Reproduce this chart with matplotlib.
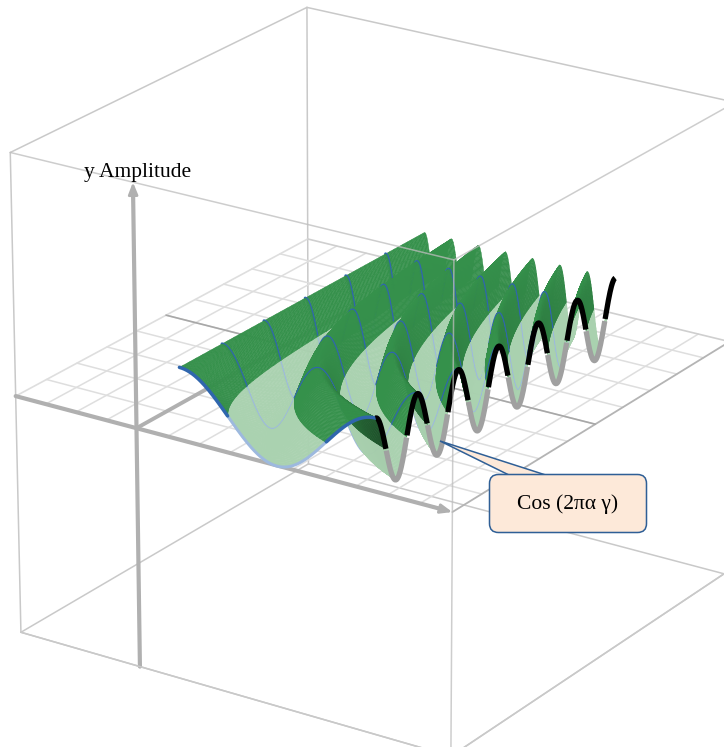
import numpy as np
import matplotlib
matplotlib.use('Agg')
import matplotlib.pyplot as plt
from matplotlib.collections import PolyCollection
from matplotlib.patches import FancyBboxPatch, Polygon

# box corners (x, y, z) and where they sit in the picture, used to fit the camera
box_corners = [(0, 0, 1), (1, 0, 1), (1, 1, 1), (0, 1, 1),
               (0, 0, 0), (1, 0, 0), (1, 1, 0), (0, 1, 0),
               (0, 0, -1), (1, 0, -1), (1, 1, -1), (0, 1, -1)]
corner_pixels = [(10, 152), (454, 260), (735, 103), (308, 7),
                 (15, 397), (452, 512), (729, 341), (308, 239),
                 (22, 631), (451, 757), (725, 573), (307, 465)]

# the surface is the function named on the chart: cos(2 pi alpha gamma)
alpha_max = 7
alpha_lines = [1, 2, 3, 4, 5, 6]
alpha_range = (1, 7)
gamma_range = (0, 1)
gamma_start = 0.285   # box x where gamma = 0
gamma_end = 0.735     # box x where gamma = 1
amplitude = 0.152

grid_x_lines = 14
grid_y_lines = 10

axis_label = 'y Amplitude'
callout_label = 'Cos (2\u03c0\u03b1 \u03b3)'

GREEN = np.array([52, 142, 74]) / 255
LIGHT_GREEN = np.array([170, 210, 176]) / 255
BLUE = '#2f66ad'
LIGHT_BLUE = '#9db9de'
EDGE = '#c9c9c9'
GRID = '#dedede'
AXIS = '#b0b0b0'


def fit_camera(points, pixels):
    """Fit the 3x4 projective camera from the box corners."""
    rows = []
    values = []
    for (x, y, z), (u, v) in zip(points, pixels):
        rows.append([x, y, z, 1, 0, 0, 0, 0, -u * x, -u * y, -u * z])
        rows.append([0, 0, 0, 0, x, y, z, 1, -v * x, -v * y, -v * z])
        values += [u, v]
    p = np.linalg.lstsq(np.array(rows, float), np.array(values, float), rcond=None)[0]
    return np.append(p, 1).reshape(3, 4)


camera = fit_camera(box_corners, corner_pixels)


def project(x, y, z):
    x, y, z = np.broadcast_arrays(x, y, z)
    pts = np.stack([x, y, z, np.ones_like(x, dtype=float)], axis=-1)
    out = pts @ camera.T
    return out[..., 0] / out[..., 2], out[..., 1] / out[..., 2]


def line3d(ax, start, end, **kwargs):
    s = np.linspace(0, 1, 40)
    xs = start[0] + (end[0] - start[0]) * s
    ys = start[1] + (end[1] - start[1]) * s
    zs = start[2] + (end[2] - start[2]) * s
    u, v = project(xs, ys, zs)
    ax.plot(u, v, solid_capstyle='round', **kwargs)


def surface_xyz(alpha, gamma):
    x = gamma_start + (gamma_end - gamma_start) * gamma
    y = alpha / alpha_max
    z = amplitude * np.cos(2 * np.pi * alpha * gamma)
    return x, y, z


def split_cell(corners, heights):
    """Cut one cell at the floor level, returns the part below and the part above."""
    below = []
    above = []
    for i in range(4):
        p, q = corners[i], corners[(i + 1) % 4]
        zp, zq = heights[i], heights[(i + 1) % 4]
        if zp <= 0:
            below.append(p)
        if zp >= 0:
            above.append(p)
        if zp * zq < 0:
            cut = p + (q - p) * zp / (zp - zq)
            below.append(cut)
            above.append(cut)
    return below, above


def draw_segment(ax, a0, a1, lower_z, upper_z):
    """One strip of the surface between two alpha values, far cells first."""
    alpha = np.linspace(a1, a0, 31)
    gamma = np.linspace(gamma_range[0], gamma_range[1], 171)
    aa, gg = np.meshgrid(alpha, gamma, indexing='ij')
    x, y, z = surface_xyz(aa, gg)
    u, v = project(x, y, z)
    pts = np.stack([u, v], axis=-1)

    # soft shading, the faces that drop towards the back are darker, mostly near the front
    slope_a = np.gradient(z, alpha, axis=0) * alpha_max
    weight = np.minimum(1, 1.4 / aa) + 0.1
    shade = 1.02 - 0.45 * np.clip(-np.tanh(0.28 * slope_a), 0, 1) * gg ** 1.5 * weight

    low_polys, low_colors, up_polys, up_colors = [], [], [], []
    for i in range(len(alpha) - 1):
        for j in range(len(gamma) - 1):
            corners = [pts[i, j], pts[i, j + 1], pts[i + 1, j + 1], pts[i + 1, j]]
            heights = [z[i, j], z[i, j + 1], z[i + 1, j + 1], z[i + 1, j]]
            below, above = split_cell(corners, heights)
            s = shade[i, j]
            if len(below) >= 3:
                low_polys.append(np.array(below))
                low_colors.append(np.clip(LIGHT_GREEN * (0.94 + 0.06 * s), 0, 1))
            if len(above) >= 3:
                up_polys.append(np.array(above))
                up_colors.append(np.clip(GREEN * s, 0, 1))
    ax.add_collection(PolyCollection(low_polys, facecolors=low_colors, edgecolors=low_colors,
                                     linewidths=0.3, zorder=lower_z))
    ax.add_collection(PolyCollection(up_polys, facecolors=up_colors, edgecolors=up_colors,
                                     linewidths=0.3, zorder=upper_z))


def draw_alpha_line(ax, a, lower_z, upper_z, width):
    gamma = np.linspace(0, 1, 300)
    x, y, z = surface_xyz(a, gamma)
    u, v = project(x, y, z)
    ax.plot(u, np.where(z >= 0, v, np.nan), color=BLUE, lw=width, zorder=upper_z,
            solid_capstyle='round')
    ax.plot(u, np.where(z <= 0, v, np.nan), color=LIGHT_BLUE, lw=width * 0.85, zorder=lower_z,
            solid_capstyle='round')


def main():
    fig = plt.figure(figsize=(7.24, 7.47), dpi=100)
    ax = fig.add_axes([0, 0, 1, 1])
    ax.set_xlim(0, 724)
    ax.set_ylim(747, 0)
    ax.axis('off')

    # box, bottom and back first
    for start, end in [((0, 0, -1), (1, 0, -1)), ((1, 0, -1), (1, 1, -1)),
                       ((1, 1, -1), (0, 1, -1)), ((0, 1, -1), (0, 0, -1)),
                       ((0, 0, 1), (0, 1, 1)), ((0, 1, 1), (1, 1, 1)),
                       ((0, 0, 1), (0, 0, -1)), ((0, 1, 1), (0, 1, -1))]:
        line3d(ax, start, end, color=EDGE, lw=1.1, zorder=1)

    # floor grid
    for i in range(1, grid_x_lines):
        line3d(ax, (i / grid_x_lines, 0, 0), (i / grid_x_lines, 1, 0), color=GRID, lw=1.1, zorder=2)
    for i in range(1, grid_y_lines):
        line3d(ax, (0, i / grid_y_lines, 0), (1, i / grid_y_lines, 0), color=GRID, lw=1.1, zorder=2)
    line3d(ax, (0, 0.5, 0), (1, 0.5, 0), color='#a8a8a8', lw=1.2, zorder=2.5)
    line3d(ax, (0, 0, 0), (0, 1, 0), color=GRID, lw=1.2, zorder=2)
    line3d(ax, (0, 1, 0), (1, 1, 0), color='#cfcfcf', lw=1.2, zorder=2)
    line3d(ax, (1, 0, 0), (1, 1, 0), color='#b4b4b4', lw=1.3, zorder=2)

    # axes lying in the floor
    line3d(ax, (gamma_start, 0, 0), (gamma_start, 1, 0), color=AXIS, lw=2.8, zorder=3)
    line3d(ax, (0, 0, 0), (0.97, 0, 0), color=AXIS, lw=3, zorder=3)
    tip = project(1.0, 0, 0)
    tail = project(0.955, 0, 0)
    ax.annotate('', xy=(float(tip[0]), float(tip[1])), xytext=(float(tail[0]), float(tail[1])),
                arrowprops=dict(arrowstyle='-|>,head_length=0.7,head_width=0.28', color=AXIS, lw=2,
                                shrinkA=0, shrinkB=0), zorder=3)

    # surface, painted from the far alpha end forward
    lower_z = 10
    upper_z = 100
    for a in range(alpha_range[1] - 1, alpha_range[0] - 1, -1):
        draw_segment(ax, a, a + 1, lower_z, upper_z)
        lower_z += 1
        upper_z += 1
        if a in alpha_lines:
            draw_alpha_line(ax, a, lower_z, upper_z, 2.5 if a == 1 else 2.2)
            lower_z += 1
            upper_z += 1

    # front edge of the surface
    alpha = np.linspace(alpha_range[0], alpha_range[1], 700)
    x, y, z = surface_xyz(alpha, gamma_range[1])
    u, v = project(x, y, z)
    ax.plot(u, np.where(z <= 0, v, np.nan), color='#a0a0a0', lw=3.8, zorder=150,
            solid_capstyle='butt')
    ax.plot(u, np.where(z >= 0, v, np.nan), color='black', lw=3.8, zorder=151,
            solid_capstyle='butt')

    # amplitude axis
    line3d(ax, (gamma_start, 0, -1), (gamma_start, 0, 0.96), color=AXIS, lw=3, zorder=160)
    tip = project(gamma_start, 0, 1.0)
    tail = project(gamma_start, 0, 0.92)
    ax.annotate('', xy=(float(tip[0]), float(tip[1])), xytext=(float(tail[0]), float(tail[1])),
                arrowprops=dict(arrowstyle='-|>,head_length=0.7,head_width=0.28', color=AXIS, lw=2,
                                shrinkA=0, shrinkB=0), zorder=160)

    # box edges in front of everything
    for start, end in [((0, 0, 1), (1, 0, 1)), ((1, 0, 1), (1, 1, 1)), ((1, 0, 1), (1, 0, -1))]:
        line3d(ax, start, end, color='#bdbdbd', lw=1.1, alpha=0.75, zorder=170)
    line3d(ax, (0, 0, -1), (1, 0, -1), color=EDGE, lw=1.1, zorder=170)
    line3d(ax, (1, 0, -1), (1, 1, -1), color=EDGE, lw=1.1, zorder=170)

    # callout
    tail_poly = Polygon([(440, 441), (515, 478), (555, 478)], closed=True, facecolor='#fde9d9',
                        edgecolor='#2f5f96', lw=1.1, zorder=180)
    ax.add_patch(tail_poly)
    box = FancyBboxPatch((497, 482), 142, 43, boxstyle='round,pad=7.5,rounding_size=9',
                         facecolor='#fde9d9', edgecolor='#2f5f96', lw=1.1, zorder=181)
    ax.add_patch(box)
    ax.text(568, 504, callout_label, family='Liberation Serif', fontsize=15.5, ha='center',
            va='center', zorder=182)
    ax.text(138, 173, axis_label, family='Liberation Serif', fontsize=15.5, ha='center',
            va='center', zorder=182)

    fig.savefig('out.png', dpi=100)


if __name__ == '__main__':
    main()
